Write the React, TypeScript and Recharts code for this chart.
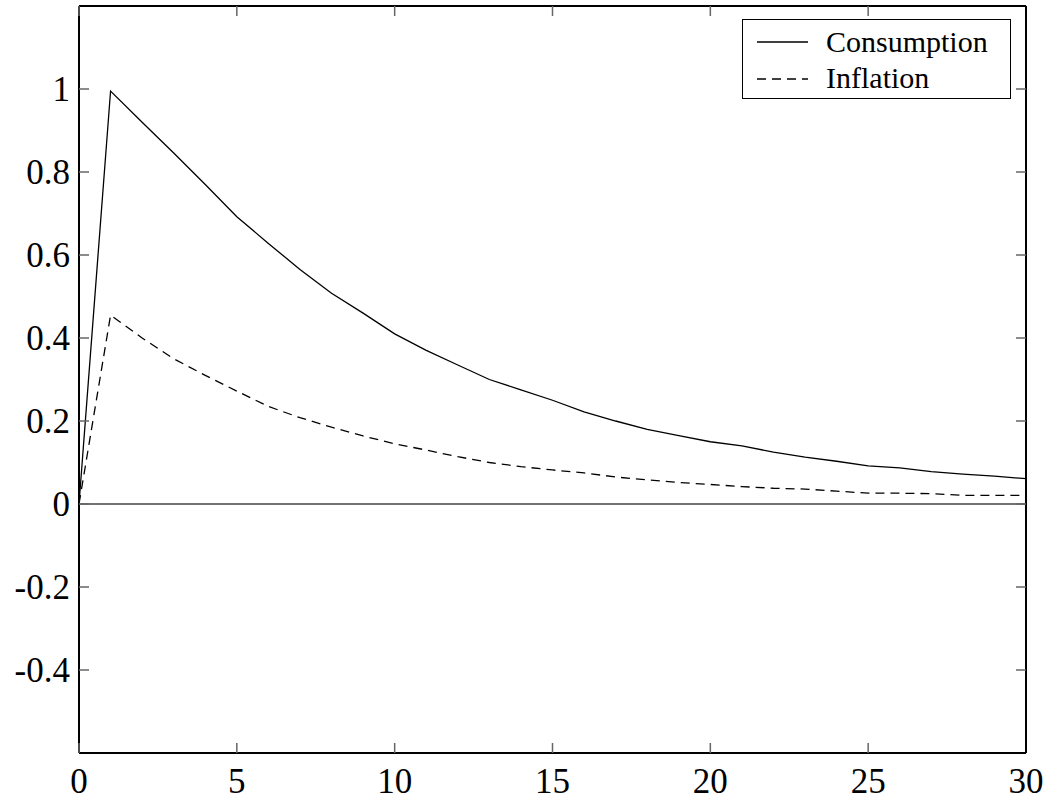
import { LineChart, Line, XAxis, YAxis, ReferenceLine } from "recharts";

const periods = [0, 1, 2, 3, 4, 5, 6, 7, 8, 9, 10, 11, 12, 13, 14, 15, 16, 17, 18, 19, 20, 21, 22, 23, 24, 25, 26, 27, 28, 29, 30];
const consumption = [0, 0.995, 0.92, 0.846, 0.77, 0.692, 0.628, 0.565, 0.508, 0.46, 0.41, 0.37, 0.335, 0.3, 0.275, 0.25, 0.222, 0.2, 0.18, 0.165, 0.15, 0.14, 0.125, 0.113, 0.103, 0.092, 0.087, 0.078, 0.072, 0.067, 0.061];
const inflation = [0, 0.455, 0.4, 0.35, 0.31, 0.272, 0.235, 0.208, 0.185, 0.164, 0.145, 0.13, 0.114, 0.1, 0.09, 0.082, 0.075, 0.065, 0.058, 0.052, 0.047, 0.042, 0.038, 0.036, 0.031, 0.026, 0.026, 0.025, 0.021, 0.021, 0.021];
const xTicks = [0, 5, 10, 15, 20, 25, 30];
const yTicks = [-0.4, -0.2, 0, 0.2, 0.4, 0.6, 0.8, 1];

const data = periods.map((t, i) => ({ t, consumption: consumption[i], inflation: inflation[i] }));

const serif = '"Liberation Serif", "Times New Roman", serif';
const fmt = (v: number) => String(Math.round(v * 10) / 10);
const tickStyle = { fill: "#000", fontSize: 35, fontFamily: serif };
const frame = { stroke: "#000", strokeWidth: 2 };
const tickLn = { stroke: "#666", strokeWidth: 1.5 };
const xDomain: [number, number] = [0, 30];
const yDomain: [number, number] = [-0.6, 1.2];
// tick marks only, no label text
const noLabel = () => <g />;

const LegendBox = () => (
  <div
    style={{
      position: "absolute",
      left: 742,
      top: 19,
      width: 267,
      height: 78,
      border: "1.5px solid #000",
      background: "#fff",
      fontFamily: serif,
      fontSize: 30,
      color: "#000",
    }}
  >
    {[
      { name: "Consumption", dash: undefined },
      { name: "Inflation", dash: "9 6" },
    ].map((s, i) => (
      <div key={s.name} style={{ position: "absolute", left: 0, top: 4 + i * 36, height: 36, display: "flex", alignItems: "center" }}>
        <svg width={83} height={36} style={{ display: "block" }}>
          <line x1={14} x2={65} y1={i === 0 ? 18 : 19} y2={i === 0 ? 18 : 19} stroke="#000" strokeWidth={1.3} strokeDasharray={s.dash} />
        </svg>
        <span style={{ lineHeight: "36px" }}>{s.name}</span>
      </div>
    ))}
  </div>
);

export default function App() {
  return (
    <div style={{ position: "absolute", left: 0, top: 0, width: 1054, height: 805, background: "#fff" }}>
      <LineChart width={1054} height={805} data={data} margin={{ top: 6, right: 28, bottom: 0, left: 0 }}>
        {/* labelled axes */}
        <XAxis dataKey="t" type="number" domain={xDomain} ticks={xTicks} height={52} axisLine={frame} tickLine={false} tickSize={0} tickMargin={15} tick={tickStyle} />
        <YAxis type="number" domain={yDomain} allowDataOverflow ticks={yTicks} width={79} axisLine={frame} tickLine={false} tickSize={0} tickMargin={9} tick={tickStyle} tickFormatter={fmt} interval={0} />
        {/* inward tick marks on all four sides */}
        <XAxis xAxisId="bm" orientation="bottom" mirror dataKey="t" type="number" domain={xDomain} ticks={xTicks} axisLine={false} tickLine={tickLn} tickSize={10} tick={noLabel} />
        <XAxis xAxisId="top" orientation="top" mirror dataKey="t" type="number" domain={xDomain} ticks={xTicks} axisLine={frame} tickLine={tickLn} tickSize={10} tick={noLabel} />
        <YAxis yAxisId="lm" orientation="left" mirror dataKey="consumption" type="number" domain={yDomain} allowDataOverflow ticks={yTicks} axisLine={false} tickLine={tickLn} tickSize={10} tick={noLabel} interval={0} />
        <YAxis yAxisId="right" orientation="right" mirror dataKey="consumption" type="number" domain={yDomain} allowDataOverflow ticks={yTicks} axisLine={frame} tickLine={tickLn} tickSize={10} tick={noLabel} interval={0} />
        <ReferenceLine y={0} stroke="#444" strokeWidth={1.5} />
        <Line dataKey="consumption" stroke="#000" strokeWidth={1.3} dot={false} isAnimationActive={false} />
        <Line dataKey="inflation" stroke="#000" strokeWidth={1.3} strokeDasharray="9 6" dot={false} isAnimationActive={false} />
      </LineChart>
      <LegendBox />
    </div>
  );
}
